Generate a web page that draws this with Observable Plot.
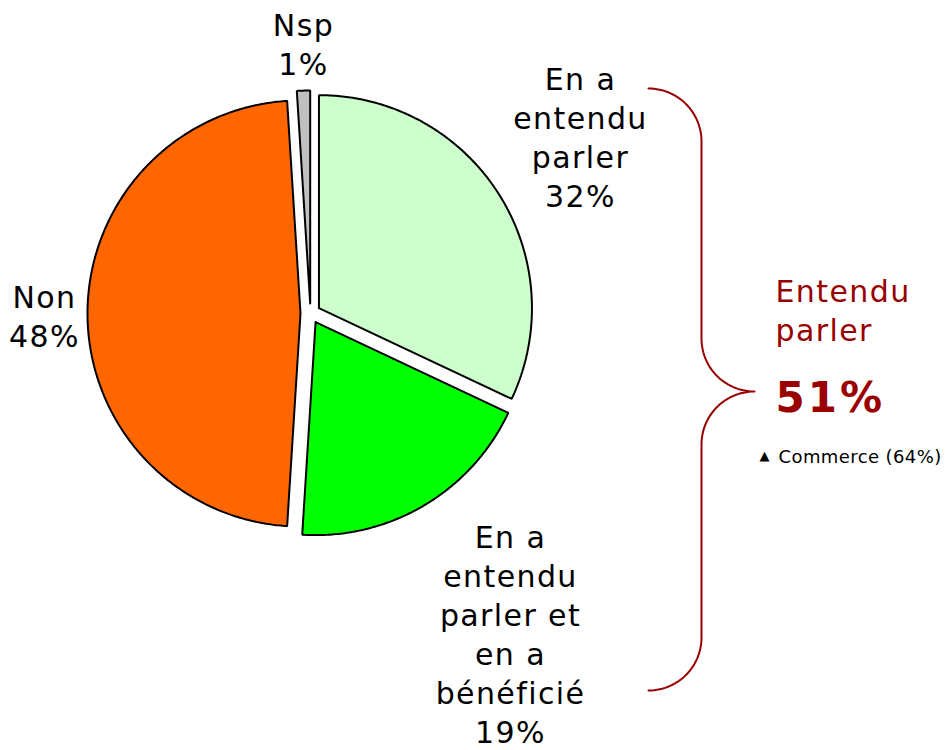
<!DOCTYPE html>
<html><head><meta charset="utf-8">
<script src="https://cdn.jsdelivr.net/npm/d3@7"></script>
<script src="https://cdn.jsdelivr.net/npm/@observablehq/plot@0.6"></script>
<style>body{margin:0;background:#fff}</style>
</head><body><div id="chart"></div>
<script>
// ---- data ----
const categories = ["En a entendu parler", "En a entendu parler et en a bénéficié", "Non", "Nsp"];
const values = [32, 19, 48, 1];
const colors = ["#CCFFCC", "#00FF00", "#FF6600", "#C0C0C0"];
const sliceLabels = ["En a\nentendu\nparler\n32%", "En a\nentendu\nparler et\nen a\nbénéficié\n19%", "Non\n48%", "Nsp\n1%"];
const braceTitle = "Entendu\nparler";
const braceValue = "51%";
const braceNote = "Commerce (64%)";

// ---- layout ----
const W = 945, H = 750;
const cx = 310, cy = 313, R = 213, explode = 10;
const labelPos = [[580, 136], [510, 633], [44, 315], [303, 43]];
const red = "#990000";

// slice polygons from values
const arcs = d3.pie().sort(null).startAngle(0).endAngle(2 * Math.PI)(values);
const slices = arcs.map((a, i) => {
  const m = (a.startAngle + a.endAngle) / 2;
  const ax = cx + explode * Math.sin(m), ay = cy - explode * Math.cos(m);
  const n = Math.max(2, Math.ceil((a.endAngle - a.startAngle) / 0.01));
  const pts = [{x: ax, y: ay}];
  for (let k = 0; k <= n; k++) {
    const t = a.startAngle + (a.endAngle - a.startAngle) * k / n;
    pts.push({x: ax + R * Math.sin(t), y: ay - R * Math.cos(t)});
  }
  pts.push({x: ax, y: ay});
  return {pts, color: colors[i], cat: categories[i]};
});

// brace geometry
const bx0 = 648, bTip = 754, bTop = 88, bBot = 690, bMid = 391, br = 53;
const brace = [];
const steps = 30;
for (let k = 0; k <= steps; k++) { const t = Math.PI / 2 * k / steps; brace.push({x: bx0 + br * Math.sin(t), y: bTop + br - br * Math.cos(t)}); }
for (let k = 0; k <= steps; k++) { const t = Math.PI / 2 * k / steps; brace.push({x: bTip - br * Math.cos(t), y: bMid - br + br * Math.sin(t)}); }
for (let k = 0; k <= steps; k++) { const t = Math.PI / 2 * k / steps; brace.push({x: bTip - br * Math.sin(t), y: bMid + br - br * Math.cos(t)}); }
for (let k = 0; k <= steps; k++) { const t = Math.PI / 2 * k / steps; brace.push({x: bx0 + br * Math.cos(t), y: bBot - br + br * Math.sin(t)}); }

const font = "DejaVu Sans";
const chart = Plot.plot({
  width: W, height: H,
  margin: 0,
  x: {domain: [0, W], range: [0, W], axis: null},
  y: {domain: [0, H], range: [0, H], axis: null},
  marks: [
    ...slices.map(s => Plot.line(s.pts, {x: "x", y: "y", fill: s.color, stroke: "#000", strokeWidth: 2, strokeLinejoin: "miter", title: () => s.cat})),
    Plot.line(brace, {x: "x", y: "y", stroke: red, strokeWidth: 2}),
    Plot.text(sliceLabels, {x: (d, i) => labelPos[i][0], y: (d, i) => labelPos[i][1], text: d => d, fontSize: 30, lineHeight: 39 / 30, fontFamily: font, fill: "#000", textAnchor: "middle"}),
    Plot.text([braceTitle], {x: 775, y: 309, text: d => d, fontSize: 30, lineHeight: 39 / 30, fontFamily: font, fill: red, textAnchor: "start"}),
    Plot.text([braceValue], {x: 775, y: 398, text: d => d, fontSize: 42, fontWeight: "bold", fontFamily: font, fill: red, textAnchor: "start"}),
    Plot.text(["▲"], {x: 764, y: 455, text: d => d, fontSize: 13, fontFamily: font, fill: "#000", textAnchor: "middle"}),
    Plot.text([braceNote], {x: 778, y: 457, text: d => d, fontSize: 18, fontFamily: font, fill: "#000", textAnchor: "start"})
  ]
});
chart.querySelectorAll('g[aria-label="text"]').forEach(g => {
  const fs = +g.getAttribute("font-size");
  const ls = fs === 30 ? 1.4 : fs === 42 ? 3 : fs === 18 ? 0.4 : 0;
  g.style.letterSpacing = ls + "px";
});
document.getElementById("chart").appendChild(chart);
</script>
</body></html>
